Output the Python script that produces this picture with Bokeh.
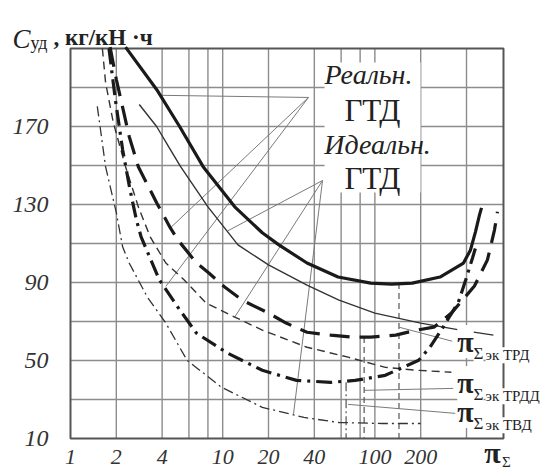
from bokeh.plotting import figure
from bokeh.models import Range1d, FixedTicker, Label, NumeralTickFormatter
from bokeh.embed import file_html
from bokeh.resources import INLINE

# ---------------- data ----------------
x_box = (1, 700)
y_box = (10, 210)
x_ticks = [1, 2, 4, 10, 20, 40, 100, 200]
x_grid = [2, 4, 6, 8, 10, 20, 40, 60, 80, 100, 200, 400]
y_ticks = [10, 50, 90, 130, 170]
y_grid = [30, 50, 70, 90, 110, 130, 150, 170, 190]

# real turbojet (thick solid)
real_trd_x = [2.30, 3.68, 5.21, 7.44, 12.0, 18.2, 23.4, 35.8, 57.3, 94, 129, 176, 268, 382, 425, 458, 487, 502]
real_trd_y = [210.7, 189.0, 170.0, 149.4, 128.8, 115.5, 109.3, 100.0, 92.8, 89.7, 89.2, 89.7, 92.8, 100.0, 106.7, 116.0, 124.7, 128.3]
# ideal turbojet (thin solid)
ideal_trd_x = [2.83, 3.68, 4.41, 5.29, 8.0, 12.6, 20, 35.8, 58.1, 100, 200, 365, 601]
ideal_trd_y = [181.3, 170.0, 159.7, 149.4, 128.8, 109.3, 99.0, 88.7, 81.0, 74.3, 69.2, 65.6, 63.0]
# real turbofan (thick dashed)
real_trdd_x = [1.82, 2.0, 2.43, 2.79, 3.68, 4.53, 5.07, 6.73, 8.11, 10.3, 13.4, 20, 26.1, 35.8, 51.3, 69.8, 94, 137, 188, 244, 318, 451, 549, 611, 639]
real_trdd_y = [210.7, 194.2, 164.9, 149.4, 130.9, 118.0, 111.9, 100.0, 94.9, 87.7, 81.0, 74.3, 69.2, 64.5, 63.0, 62.0, 62.0, 63.0, 65.6, 67.1, 74.3, 88.2, 101.6, 117.0, 126.3]
# ideal turbofan (thin dashed)
ideal_trdd_x = [1.62, 1.70, 1.91, 2.30, 2.79, 3.34, 4.23, 5.59, 7.77, 12.0, 18.2, 35.8, 66.7, 117, 188, 318]
ideal_trdd_y = [210.0, 192.6, 172.1, 149.4, 128.8, 113.4, 100.0, 91.3, 79.5, 72.3, 65.6, 56.8, 51.7, 46.5, 45.0, 44.0]
# real turboprop (thick dash-dot)
real_tvd_x = [1.79, 1.97, 2.20, 2.46, 2.71, 2.91, 3.84, 5.07, 6.73, 10.8, 18.2, 30.6, 51.3, 74.1, 117, 194, 230, 281, 354, 395, 438, 465]
real_tvd_y = [210.0, 183.9, 158.2, 137.6, 122.2, 113.4, 91.3, 77.4, 64.0, 53.7, 45.0, 39.8, 38.8, 39.8, 42.4, 50.1, 56.8, 67.1, 80.0, 91.3, 102.6, 109.3]
# ideal turboprop (thin dash-dot)
ideal_tvd_x = [1.50, 1.70, 2.0, 2.20, 2.43, 3.20, 4.23, 5.83, 9.86, 18.2, 34.2, 58.1, 112, 200]
ideal_tvd_y = [180.3, 149.4, 125.8, 108.3, 100.0, 82.5, 69.2, 50.1, 36.2, 26.0, 20.8, 18.2, 17.7, 17.7]

# optimum pressure-ratio markers (x, top of marker)
opt_x = [144, 85, 64.7]
opt_top = [89.7, 62.0, 38.8]
opt_dash = ["6 4", "6 4", "9 3 2 3"]

# leader lines to the optimum labels: (x0, y0, x1, y1)
opt_leaders = [(144, 67.1, 322, 59.9), (85, 34.7, 327, 35.7), (66.7, 27.5, 337, 22.9)]
opt_names = ["ТРД", "ТРДД", "ТВД"]
opt_label_y = [59.7, 38.7, 23.8]

# leader lines from the "Реальн./Идеальн. ГТД" notes to curves
real_tip = (36.6, 184.9)
real_targets = [(3.9, 186.0), (4.53, 118.0), (4.23, 88.0)]
ideal_tip = (45.3, 142.3)
ideal_targets = [(10.8, 116.5), (12.0, 72.3), (29.2, 22.6)]

# ---------------- figure ----------------
SERIF = "Liberation Serif"
INK = "#222222"
GRID = "#8c8c8c"

p = figure(width=548, height=471, x_axis_type="log",
           x_range=Range1d(0.3468, 1382.9), y_range=Range1d(-6.92, 234.62),
           output_backend="svg", toolbar_location=None,
           min_border_left=0, min_border_right=0, min_border_top=0, min_border_bottom=0)
p.background_fill_color = "white"
p.border_fill_color = "white"
p.outline_line_color = None
p.grid.visible = False

p.xaxis.ticker = FixedTicker(ticks=x_ticks)
p.yaxis.ticker = FixedTicker(ticks=y_ticks)
p.xaxis.formatter = NumeralTickFormatter(format="0")
p.xaxis.fixed_location = y_box[0]
p.yaxis.fixed_location = x_box[0]
for ax in p.axis:
    ax.axis_line_color = None
    ax.major_tick_line_color = None
    ax.minor_tick_line_color = None
    ax.major_label_text_font = SERIF
    ax.major_label_text_font_style = "italic"
    ax.major_label_text_color = "#333333"
p.yaxis.major_label_text_font_size = "24px"
p.xaxis.major_label_text_font_size = "22px"
p.yaxis.major_label_standoff = 16
p.xaxis.major_label_standoff = 5

# grid lines inside the chart box
p.segment(x0=x_grid, x1=x_grid, y0=[y_box[0]] * len(x_grid), y1=[y_box[1]] * len(x_grid),
          line_color=GRID, line_width=1.4)
p.segment(x0=[x_box[0]] * len(y_grid), x1=[x_box[1]] * len(y_grid), y0=y_grid, y1=y_grid,
          line_color=GRID, line_width=1.4)

# white area behind the notes
p.quad(left=46.7, right=199.5, bottom=136.2, top=202.8, fill_color="white", line_color=None)

# chart box
p.quad(left=x_box[0], right=x_box[1], bottom=y_box[0], top=y_box[1],
       fill_color=None, line_color="#555555", line_width=2)

# leader lines from notes
for tx, ty in real_targets:
    p.line([real_tip[0], tx], [real_tip[1], ty], line_color="#7a7a7a", line_width=1)
for tx, ty in ideal_targets:
    p.line([ideal_tip[0], tx], [ideal_tip[1], ty], line_color="#7a7a7a", line_width=1)

# optimum markers
for xo, yt, dsh in zip(opt_x, opt_top, opt_dash):
    p.line([xo, xo], [yt, y_box[0]], line_color="#555555", line_width=1.2, line_dash=dsh)
for x0, y0, x1, y1 in opt_leaders:
    p.line([x0, x1], [y0, y1], line_color="#7a7a7a", line_width=1)

# curves
p.line(ideal_tvd_x, ideal_tvd_y, line_color="#333333", line_width=1.3, line_dash="10 4 2 4")
p.line(ideal_trdd_x, ideal_trdd_y, line_color="#333333", line_width=1.4, line_dash="8 5")
p.line(ideal_trd_x, ideal_trd_y, line_color="#333333", line_width=1.4)
p.line(real_tvd_x, real_tvd_y, line_color="#1a1a1a", line_width=3.2, line_dash="16 6 3 6")
p.line(real_trdd_x, real_trdd_y, line_color="#1a1a1a", line_width=3.2, line_dash="20 10")
p.line(real_trd_x, real_trd_y, line_color="#1a1a1a", line_width=3.2, line_join="round")

# notes
def note(x, y, text, size, style="normal", align="center", baseline="middle", bg=None):
    lab = Label(x=x, y=y, text=text, text_font=SERIF, text_font_size=size,
                text_font_style=style, text_align=align, text_baseline=baseline,
                text_color=INK)
    if bg:
        lab.background_fill_color = bg
    p.add_layout(lab)

note(90.8, 196.7, "Реальн.", "28px", "italic")
note(96.4, 178.2, "ГТД", "31px")
note(104, 160.8, "Идеальн.", "28px", "italic")
note(96.4, 143.3, "ГТД", "31px")

# optimum labels
for name, yl in zip(opt_names, opt_label_y):
    note(394, yl, "π", "30px", "bold", bg="white")
    note(480, yl - 6.0, "Σ", "17px", bg="white")
    note(533, yl - 7.0, "эк " + name, "15px", align="left", bg="white")

# axis title (x)
note(593, 2.8, "π", "30px", "bold")
note(732, -2.3, "Σ", "15px")

# axis title (y)
note(0.416, 215.1, "C", "27px", "italic", align="left", baseline="alphabetic")
note(0.546, 212.6, "уд", "18px", align="left", baseline="alphabetic")
note(0.773, 215.6, ", кг/кН ·ч", "23px", "bold", align="left", baseline="alphabetic")

open("out.html", "w").write(file_html(p, INLINE))
